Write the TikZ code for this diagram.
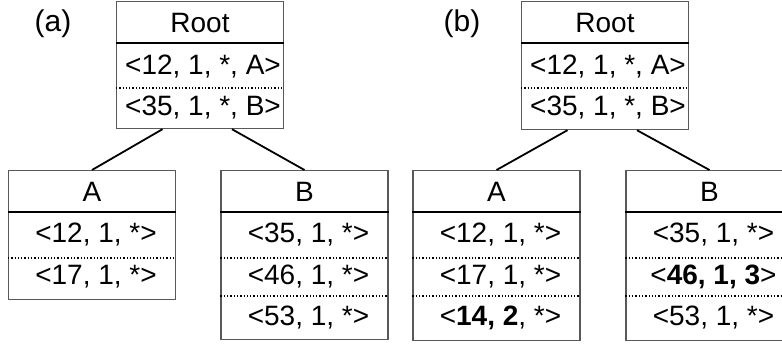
\documentclass[tikz,border=0pt]{standalone}
\usepackage{fontspec}
\setmainfont{Liberation Sans}
\usetikzlibrary{calc}
\begin{document}
\begin{tikzpicture}[x=1pt,y=-1pt,
  box/.style={draw=black!65,line width=1.2pt,minimum width=167pt,anchor=north,inner sep=0pt,fill=white},
  hdr/.style={line width=2.2pt},
  sep/.style={dotted,line width=1.3pt},
  txt/.style={font=\fontsize{28}{30}\selectfont,inner sep=0pt,anchor=center},
  lab/.style={font=\fontsize{30}{32}\selectfont,inner sep=0pt,anchor=center},
  row/.style={txt,xshift=4pt},
  conn/.style={line width=1.8pt}]
\useasboundingbox (0,0) rectangle (782,343);
% ---------- (a) ----------
\node[lab] (la) at (53,24) {(a)};
\node[box,minimum height=127pt] (ra) at (200,1) {};
\node[box,minimum height=129pt] (aa) at (92,170) {};
\node[box,minimum height=169pt] (ba) at (304.5,170) {};
% root a
\draw[hdr] (ra.west|-0,43) -- (ra.east|-0,43);
\draw[sep] (ra.west|-0,88) -- (ra.east|-0,88);
\node[txt] (ra0) at (200,23) {Root};
\node[txt] (ra1) at (203,67) {<12, 1, *, A>};
\node[txt] (ra2) at (203,108) {<35, 1, *, B>};
% A a
\draw[hdr] (aa.west|-0,212) -- (aa.east|-0,212);
\draw[sep] (aa.west|-0,258) -- (aa.east|-0,258);
\node[txt] (aa0) at (92,192) {A};
\node[row] (aa1) at (92,235) {<12, 1, *>};
\node[row] (aa2) at (92,277) {<17, 1, *>};
% B a
\draw[hdr] (ba.west|-0,212) -- (ba.east|-0,212);
\draw[sep] (ba.west|-0,258) -- (ba.east|-0,258);
\draw[sep] (ba.west|-0,296) -- (ba.east|-0,296);
\node[txt] (ba0) at (304.5,192) {B};
\node[row] (ba1) at (304.5,235) {<35, 1, *>};
\node[row] (ba2) at (304.5,277) {<46, 1, *>};
\node[row] (ba3) at (304.5,318) {<53, 1, *>};
% connectors a
\draw[conn] ($(ra.south west)!0.277!(ra.south east)$) -- (aa.north);
\draw[conn] ($(ra.south west)!0.69!(ra.south east)$) -- (ba.north);
% ---------- (b) ----------
\node[lab] (lb) at (462,24) {(b)};
\node[box,minimum height=128pt] (rb) at (605,1) {};
\node[box,minimum height=170pt] (ab) at (496.5,170) {};
\node[box,minimum height=170pt] (bb) at (709.5,170) {};
% root b
\draw[hdr] (rb.west|-0,43) -- (rb.east|-0,43);
\draw[sep] (rb.west|-0,88) -- (rb.east|-0,88);
\node[txt] (rb0) at (605,23) {Root};
\node[txt] (rb1) at (608,67) {<12, 1, *, A>};
\node[txt] (rb2) at (608,108) {<35, 1, *, B>};
% A b
\draw[hdr] (ab.west|-0,212) -- (ab.east|-0,212);
\draw[sep] (ab.west|-0,258) -- (ab.east|-0,258);
\draw[sep] (ab.west|-0,296) -- (ab.east|-0,296);
\node[txt] (ab0) at (496.5,192) {A};
\node[row] (ab1) at (496.5,235) {<12, 1, *>};
\node[row] (ab2) at (496.5,277) {<17, 1, *>};
\node[row] (ab3) at (496.5,318) {<\textbf{14, 2}, *>};
% B b
\draw[hdr] (bb.west|-0,212) -- (bb.east|-0,212);
\draw[sep] (bb.west|-0,258) -- (bb.east|-0,258);
\draw[sep] (bb.west|-0,296) -- (bb.east|-0,296);
\node[txt] (bb0) at (709.5,192) {B};
\node[row] (bb1) at (709.5,235) {<35, 1, *>};
\node[row] (bb2) at (709.5,277) {<\textbf{46, 1, 3}>};
\node[row] (bb3) at (709.5,318) {<53, 1, *>};
% connectors b
\draw[conn] ($(rb.south west)!0.277!(rb.south east)$) -- (ab.north);
\draw[conn] ($(rb.south west)!0.69!(rb.south east)$) -- (bb.north);
\end{tikzpicture}
\end{document}
